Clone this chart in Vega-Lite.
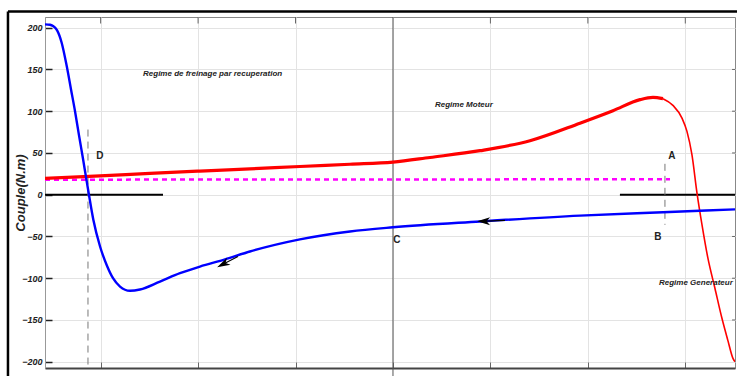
{
  "$schema": "https://vega.github.io/schema/vega-lite/v6.json",
  "width": 690,
  "height": 351,
  "autosize": "none",
  "padding": {"left": 45, "top": 17, "right": 2, "bottom": 8},
  "background": "white",
  "config": {"view": {"stroke": "#888", "strokeWidth": 1}},
  "datasets": {
    "red_thick": [
      {"x": -3.571, "y": 19.5}, {"x": -3.006, "y": 22.5}, {"x": -2.494, "y": 25.5}, {"x": -1.981, "y": 28.3},
      {"x": -1.468, "y": 31}, {"x": -0.955, "y": 33.8}, {"x": -0.441, "y": 36.5}, {"x": 0, "y": 39},
      {"x": 0.38, "y": 44.6}, {"x": 0.893, "y": 52.7}, {"x": 1.406, "y": 64.7}, {"x": 1.919, "y": 85.7},
      {"x": 2.258, "y": 100.6}, {"x": 2.535, "y": 113.8}, {"x": 2.668, "y": 116.5}, {"x": 2.771, "y": 115}
    ],
    "red_thin": [
      {"x": 2.771, "y": 115}, {"x": 2.873, "y": 107}, {"x": 2.966, "y": 91.7}, {"x": 3.017, "y": 75.8},
      {"x": 3.068, "y": 48}, {"x": 3.12, "y": 2}, {"x": 3.171, "y": -35.8}, {"x": 3.232, "y": -76},
      {"x": 3.304, "y": -112}, {"x": 3.376, "y": -148}, {"x": 3.438, "y": -175}, {"x": 3.489, "y": -196},
      {"x": 3.51, "y": -200}
    ],
    "blue": [
      {"x": -3.571, "y": 204}, {"x": -3.52, "y": 203.5}, {"x": -3.489, "y": 202}, {"x": -3.448, "y": 197},
      {"x": -3.4, "y": 182}, {"x": -3.348, "y": 154}, {"x": -3.304, "y": 126}, {"x": -3.263, "y": 100},
      {"x": -3.222, "y": 71}, {"x": -3.181, "y": 43}, {"x": -3.15, "y": 21}, {"x": -3.12, "y": 0},
      {"x": -3.075, "y": -30}, {"x": -3.006, "y": -62}, {"x": -2.935, "y": -85}, {"x": -2.873, "y": -100},
      {"x": -2.801, "y": -110}, {"x": -2.699, "y": -115}, {"x": -2.596, "y": -113.5}, {"x": -2.391, "y": -104},
      {"x": -2.186, "y": -94}, {"x": -1.981, "y": -86}, {"x": -1.724, "y": -77.5}, {"x": -1.468, "y": -68},
      {"x": -0.955, "y": -53.5}, {"x": -0.441, "y": -44}, {"x": 0, "y": -39}, {"x": 0.893, "y": -32},
      {"x": 1.919, "y": -25}, {"x": 2.771, "y": -21}, {"x": 3.51, "y": -17.6}
    ],
    "magenta": [{"x": -3.571, "y": 18}, {"x": 2.843, "y": 18.5}],
    "zero_segs": [
      {"x": -3.571, "x2": -2.36, "y": 0},
      {"x": 2.329, "x2": 3.51, "y": 0}
    ],
    "dashed_v": [
      {"x": -3.13, "y": 78, "y2": -207.5},
      {"x": 2.791, "y": 37, "y2": -36}
    ],
    "frame_v": [
      {"x": -3.951, "y": 219.5, "y2": -218.8}
    ],
    "frame_h": [
      {"x": -3.951, "x2": 3.6, "y": 219.5}
    ],
    "center_v": [
      {"x": 0, "y": 212.8, "y2": -218.8}
    ],
    "top_ticks": [
      {"x": -3, "y": 212.8, "y2": 205}, {"x": -2, "y": 212.8, "y2": 205}, {"x": -1, "y": 212.8, "y2": 205},
      {"x": 1, "y": 212.8, "y2": 205}, {"x": 2, "y": 212.8, "y2": 205}, {"x": 3, "y": 212.8, "y2": 205}
    ],
    "right_ticks": [
      {"x": 3.51, "x2": 3.48, "y": 150}, {"x": 3.51, "x2": 3.48, "y": 100}, {"x": 3.51, "x2": 3.48, "y": 50},
      {"x": 3.51, "x2": 3.48, "y": 0}, {"x": 3.51, "x2": 3.48, "y": -50}, {"x": 3.51, "x2": 3.48, "y": -100},
      {"x": 3.51, "x2": 3.48, "y": -150}
    ],
    "arrow_lines": [
      {"x": 1.149, "x2": 0.893, "y": -30.8, "y2": -32},
      {"x": -1.591, "x2": -1.775, "y": -74, "y2": -85}
    ],
    "arrow_heads": [
      {"x": 0.93, "y": -31.8, "angle": 0},
      {"x": -1.745, "y": -83.3, "angle": 333}
    ],
    "letters": [
      {"x": -3.007, "y": 46, "text": "D"},
      {"x": 2.863, "y": 46, "text": "A"},
      {"x": 2.719, "y": -51, "text": "B"},
      {"x": 0.041, "y": -54, "text": "C"}
    ],
    "regimes": [
      {"x": -2.565, "y": 144, "text": "Regime de freinage par recuperation"},
      {"x": 0.431, "y": 107, "text": "Regime Moteur"},
      {"x": 2.73, "y": -106, "text": "Regime Generateur"}
    ]
  },
  "encoding": {
    "x": {
      "field": "x", "type": "quantitative",
      "scale": {"domain": [-3.571, 3.51], "nice": false, "zero": false},
      "axis": {
        "title": null, "labels": false, "values": [-3, -2, -1, 0, 1, 2, 3],
        "grid": true, "gridColor": "#e3e3e3", "gridWidth": 1,
        "tickSize": -6, "tickColor": "#666", "domainColor": "#444", "domainWidth": 2
      }
    },
    "y": {
      "field": "y", "type": "quantitative",
      "scale": {"domain": [-207.5, 212.8], "nice": false, "zero": false},
      "axis": {
        "title": "Couple(N.m)", "values": [-200, -150, -100, -50, 0, 50, 100, 150, 200],
        "grid": true, "gridColor": "#e3e3e3", "gridWidth": 1,
        "tickSize": -7, "tickColor": "#222", "tickWidth": 1.5, "domainColor": "#999",
        "labelFont": "Liberation Sans", "labelFontStyle": "italic", "labelFontWeight": "bold",
        "labelFontSize": 9, "labelColor": "#222", "labelPadding": 10,
        "titleFont": "Liberation Sans", "titleFontStyle": "italic", "titleFontWeight": "bold",
        "titleFontSize": 13, "titleColor": "#222", "titleX": -25, "titleY": 175.5,
        "titleAngle": -90, "titleAlign": "center", "titleBaseline": "middle"
      }
    }
  },
  "layer": [
    {"data": {"name": "center_v"}, "mark": {"type": "rule", "color": "#555", "strokeWidth": 1}, "encoding": {"y2": {"field": "y2"}}},
    {"data": {"name": "top_ticks"}, "mark": {"type": "rule", "color": "#666", "strokeWidth": 1}, "encoding": {"y2": {"field": "y2"}}},
    {"data": {"name": "right_ticks"}, "mark": {"type": "rule", "color": "#666", "strokeWidth": 1}, "encoding": {"x2": {"field": "x2"}}},
    {"data": {"name": "frame_v"}, "mark": {"type": "rule", "color": "#000", "strokeWidth": 2.5}, "encoding": {"y2": {"field": "y2"}}},
    {"data": {"name": "frame_h"}, "mark": {"type": "rule", "color": "#000", "strokeWidth": 2.5}, "encoding": {"x2": {"field": "x2"}}},
    {"data": {"name": "zero_segs"}, "mark": {"type": "rule", "color": "#000", "strokeWidth": 2}, "encoding": {"x2": {"field": "x2"}}},
    {"data": {"name": "dashed_v"}, "mark": {"type": "rule", "color": "#777", "strokeWidth": 1, "strokeDash": [7, 5]}, "encoding": {"y2": {"field": "y2"}}},
    {"data": {"name": "magenta"}, "mark": {"type": "line", "color": "#ff00ff", "strokeWidth": 2.5, "strokeDash": [5, 4]}, "encoding": {}},
    {"data": {"name": "red_thick"}, "mark": {"type": "line", "color": "#ff0000", "strokeWidth": 3.2, "interpolate": "monotone", "clip": true}, "encoding": {}},
    {"data": {"name": "red_thin"}, "mark": {"type": "line", "color": "#ff0000", "strokeWidth": 1.6, "interpolate": "monotone", "clip": true}, "encoding": {}},
    {"data": {"name": "blue"}, "mark": {"type": "line", "color": "#0000ff", "strokeWidth": 2.4, "interpolate": "monotone", "clip": true}, "encoding": {}},
    {"data": {"name": "arrow_lines"}, "mark": {"type": "rule", "color": "#000", "strokeWidth": 1.2}, "encoding": {"x2": {"field": "x2"}, "y2": {"field": "y2"}}},
    {"data": {"name": "arrow_heads"}, "mark": {"type": "point", "filled": true, "color": "#000", "opacity": 1, "size": 170, "shape": "M -1 0 L 1 -0.6 L 0.45 0 L 1 0.6 Z"}, "encoding": {"angle": {"field": "angle", "type": "quantitative", "scale": null}}},
    {"data": {"name": "letters"}, "mark": {"type": "text", "font": "Liberation Sans", "fontWeight": "bold", "fontSize": 10, "color": "#222", "align": "center", "baseline": "middle"}, "encoding": {"text": {"field": "text"}}},
    {"data": {"name": "regimes"}, "mark": {"type": "text", "font": "Liberation Sans", "fontWeight": "bold", "fontStyle": "italic", "fontSize": 8, "color": "#222", "align": "left", "baseline": "middle"}, "encoding": {"text": {"field": "text"}}}
  ]
}
